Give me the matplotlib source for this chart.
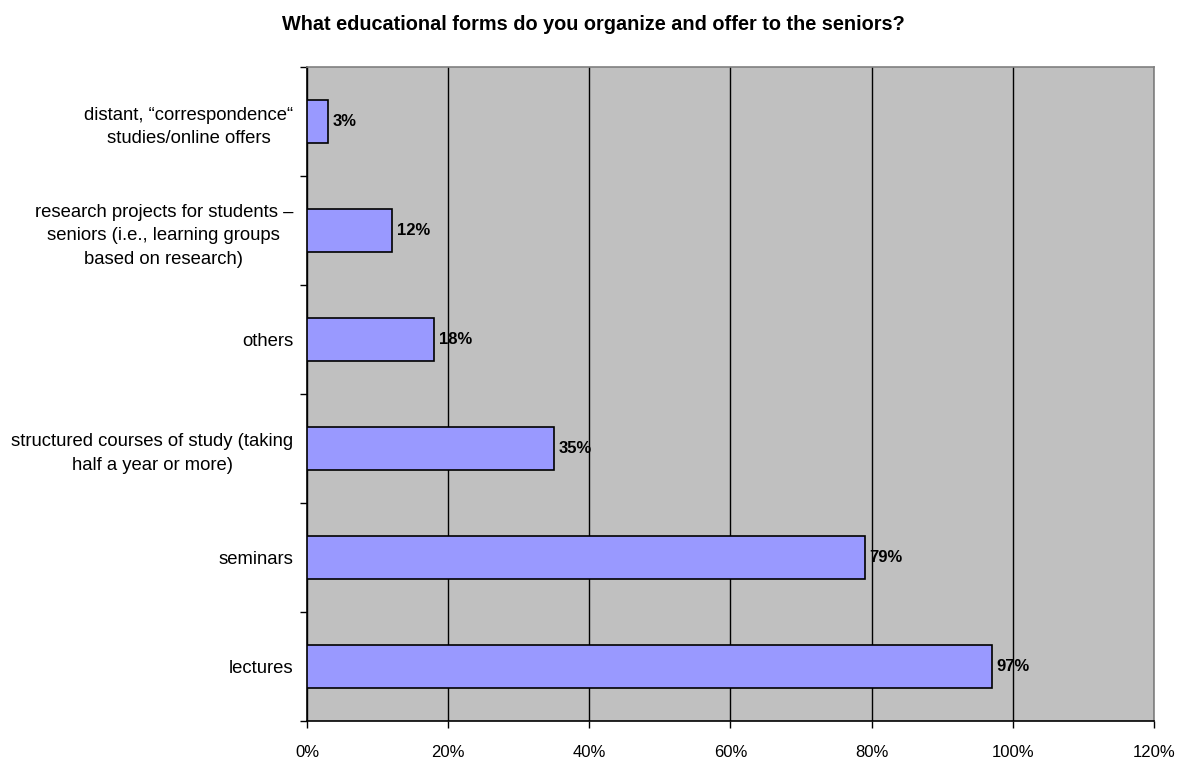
import matplotlib
matplotlib.use("Agg")
import matplotlib.pyplot as plt
from matplotlib.ticker import FuncFormatter, FixedLocator

plt.rcParams['font.family'] = ['Liberation Sans', 'DejaVu Sans']

categories = [
    "lectures",
    "seminars",
    "structured courses of study (taking\nhalf a year or more)",
    "others",
    "research projects for students \u2013\nseniors (i.e., learning groups\nbased on research)",
    "distant, \u201ccorrespondence\u201c\nstudies/online offers",
]
values = [97, 79, 35, 18, 12, 3]
x_ticks = [0, 20, 40, 60, 80, 100, 120]

fig = plt.figure(figsize=(11.84, 7.6), dpi=100)
ax = fig.add_axes([307 / 1184, 1 - 721 / 760, (1154 - 307) / 1184, (721 - 67) / 760])

ax.set_facecolor("#C0C0C0")
pos = list(range(len(categories)))
ax.barh(pos, values, height=0.4, color="#9999FF", edgecolor="black",
        linewidth=1.2, zorder=3)

for y, v in zip(pos, values):
    ax.text(v + 0.7, y, f"{v}%", va="center", ha="left", fontsize=12,
            fontweight="bold", zorder=4)

ax.set_xlim(0, 120)
ax.set_ylim(-0.5, len(categories) - 0.5)
ax.xaxis.set_major_locator(FixedLocator(x_ticks))
ax.xaxis.set_major_formatter(FuncFormatter(lambda x, p: f"{x:.0f}%"))
ax.xaxis.grid(True, color="black", linewidth=1.0, zorder=1)
ax.set_axisbelow(True)

# category labels sit between boundary tick marks
ax.yaxis.set_major_locator(FixedLocator([i - 0.5 for i in range(len(categories) + 1)]))
ax.yaxis.set_major_formatter(FuncFormatter(lambda y, p: ""))
ax.yaxis.set_minor_locator(FixedLocator(pos))
ax.set_yticklabels(categories, minor=True, fontsize=13.3, linespacing=1.5,
                   multialignment="center")
ax.tick_params(axis="y", which="minor", length=0, pad=10)
ax.tick_params(axis="y", which="major", length=5, width=1, direction="out")
ax.tick_params(axis="x", which="major", length=5, width=1, direction="out",
               labelsize=12, pad=12)

for side in ("top", "right"):
    ax.spines[side].set_color("#808080")
    ax.spines[side].set_linewidth(1.2)
for side in ("left", "bottom"):
    ax.spines[side].set_color("black")
    ax.spines[side].set_linewidth(1.2)

fig.text(593 / 1184, 1 - 30 / 760,
         "What educational forms do you organize and offer to the seniors?",
         ha="center", va="baseline", fontsize=14.3, fontweight="bold")

fig.savefig("out.png", dpi=100, facecolor="white")
